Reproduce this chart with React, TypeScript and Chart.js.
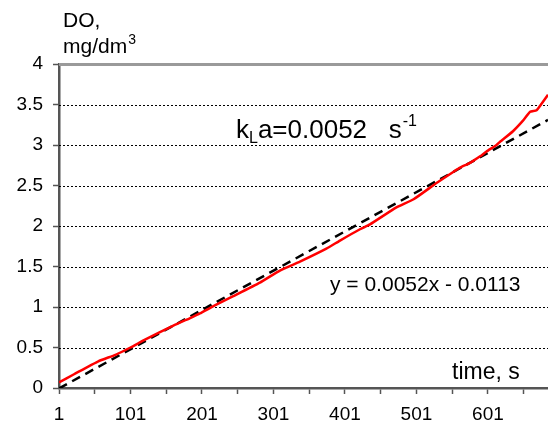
import React, { useEffect, useRef } from "react";
import { Chart, registerables } from "chart.js";

Chart.register(...registerables);

// measured dissolved oxygen (time in s, DO in mg/dm3)
const timeS = [1, 22, 56, 80, 101, 122, 161, 186, 198, 219, 244, 282, 310, 338, 375, 394, 422, 436, 473, 497, 529, 553, 562, 576, 590, 599, 613, 618, 636, 650, 660, 669, 676, 685];
const doMeasured = [0.07, 0.17, 0.33, 0.41, 0.5, 0.6, 0.77, 0.87, 0.92, 1.02, 1.13, 1.3, 1.45, 1.56, 1.72, 1.82, 1.96, 2.02, 2.23, 2.33, 2.53, 2.67, 2.72, 2.78, 2.86, 2.92, 3.0, 3.04, 3.17, 3.3, 3.41, 3.43, 3.51, 3.62];

// linear trend line end points
const trendTime = [1, 685];
const trendDO = [-0.006, 3.31];

const yTickValues = [0, 0.5, 1, 1.5, 2, 2.5, 3, 3.5, 4];
const xTickValues = [1, 51, 101, 151, 201, 251, 301, 351, 401, 451, 501, 551, 601, 651];
const xTickLabels = ["1", "101", "201", "301", "401", "501", "601"];

const FONT = 'Arial, "Liberation Sans", sans-serif';

export default function App() {
  const canvasRef = useRef<HTMLCanvasElement>(null);

  useEffect(() => {
    const canvas = canvasRef.current;
    if (!canvas) return;

    const gridPlugin = {
      id: "customGrid",
      beforeDatasetsDraw(chart: any) {
        const { ctx, chartArea: a, scales } = chart;
        const y = scales.y;
        ctx.save();
        yTickValues.forEach((v) => {
          if (v === 0) return;
          const py = Math.round(y.getPixelForValue(v)) + 0.5;
          if (v === 4) {
            ctx.strokeStyle = "#9a9a9a";
            ctx.lineWidth = 3;
            ctx.setLineDash([]);
          } else {
            ctx.strokeStyle = "#000";
            ctx.lineWidth = 1;
            ctx.setLineDash([2, 2]);
          }
          ctx.beginPath();
          ctx.moveTo(a.left, py);
          ctx.lineTo(a.right, py);
          ctx.stroke();
        });
        ctx.restore();
      },
      afterDraw(chart: any) {
        const { ctx } = chart;
        ctx.save();
        ctx.fillStyle = "#000";
        ctx.textBaseline = "alphabetic";
        ctx.textAlign = "left";
        // y title
        ctx.font = `21px ${FONT}`;
        ctx.fillText("DO,", 63, 27);
        ctx.fillText("mg/dm", 63, 53);
        const w = ctx.measureText("mg/dm").width;
        ctx.font = `14px ${FONT}`;
        ctx.fillText("3", 63 + w + 1, 44);
        // kLa
        let x = 236;
        ctx.font = `26px ${FONT}`;
        ctx.fillText("k", x, 138);
        x += ctx.measureText("k").width;
        ctx.font = `16px ${FONT}`;
        ctx.fillText("L", x, 143);
        x += ctx.measureText("L").width;
        ctx.font = `26px ${FONT}`;
        ctx.fillText("a=0.0052   s", x, 138);
        x += ctx.measureText("a=0.0052   s").width;
        ctx.font = `16px ${FONT}`;
        ctx.fillText("-1", x + 1, 126);
        // equation
        ctx.font = `21px ${FONT}`;
        ctx.fillText("y = 0.0052x - 0.0113", 330, 291);
        // x title
        ctx.font = `23px ${FONT}`;
        ctx.fillText("time, s", 452, 379);
        ctx.restore();
      },
    };

    const chart = new Chart(canvas, {
      type: "line",
      data: {
        datasets: [
          {
            label: "measured",
            data: timeS.map((t, i) => ({ x: t, y: doMeasured[i] })),
            borderColor: "#ff0000",
            borderWidth: 2.5,
            pointRadius: 0,
            tension: 0.15,
            fill: false,
          },
          {
            label: "trend",
            data: trendTime.map((t, i) => ({ x: t, y: trendDO[i] })),
            borderColor: "#000",
            borderWidth: 2.5,
            borderDash: [9, 6],
            pointRadius: 0,
            fill: false,
          },
        ],
      },
      options: {
        animation: false,
        responsive: true,
        maintainAspectRatio: false,
        layout: { padding: { top: 64, right: 0, left: 0, bottom: 0 } },
        plugins: { legend: { display: false }, tooltip: { enabled: false } },
        scales: {
          x: {
            type: "linear",
            min: 1,
            max: 685,
            afterBuildTicks: (scale: any) => {
              scale.ticks = xTickValues.map((v) => ({ value: v }));
            },
            afterFit: (scale: any) => {
              scale.height = 50;
            },
            ticks: {
              autoSkip: false,
              maxRotation: 0,
              padding: 9,
              color: "#000",
              font: { family: FONT, size: 19 },
              callback: (value: any) => {
                const s = String(Number(value));
                return xTickLabels.includes(s) ? s : "";
              },
            },
            grid: {
              drawOnChartArea: false,
              drawTicks: true,
              tickLength: 6,
              tickColor: "#555",
              tickWidth: 1.5,
            },
            border: { display: true, color: "#555", width: 2.5 },
          },
          y: {
            min: 0,
            max: 4,
            afterBuildTicks: (scale: any) => {
              scale.ticks = yTickValues.map((v) => ({ value: v }));
            },
            afterFit: (scale: any) => {
              scale.width = 59;
            },
            ticks: {
              padding: 10,
              color: "#000",
              font: { family: FONT, size: 19 },
              callback: (value: any) => String(value),
            },
            grid: {
              drawOnChartArea: false,
              drawTicks: true,
              tickLength: 6,
              tickColor: "#555",
              tickWidth: 1.5,
            },
            border: { display: true, color: "#555", width: 2.5 },
          },
        },
      },
      plugins: [gridPlugin],
    });

    return () => chart.destroy();
  }, []);

  return (
    <div style={{ position: "absolute", left: 0, top: 0, width: 548, height: 438, background: "#fff" }}>
      <canvas ref={canvasRef} />
    </div>
  );
}
